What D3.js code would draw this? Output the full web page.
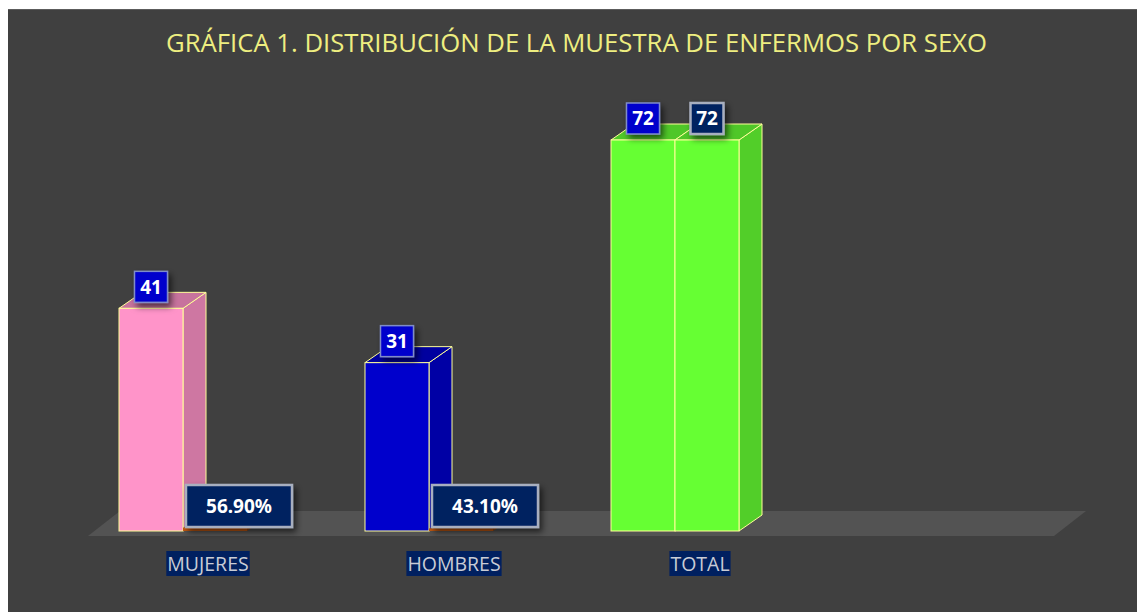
<!DOCTYPE html>
<html>
<head>
<meta charset="utf-8">
<script src="https://cdn.jsdelivr.net/npm/d3@7"></script>
<style>
  body { margin: 0; background: #fff; }
  svg { display: block; }
</style>
</head>
<body>
<div id="chart"></div>
<script>
var W = 1137, H = 612;

// data
var title = "GRÁFICA 1. DISTRIBUCIÓN DE LA MUESTRA DE ENFERMOS POR SEXO";
var categories = ["MUJERES", "HOMBRES", "TOTAL"];
var counts = [41, 31, 72];           // first series (N)
var shares = [0.569, 0.431, 72];     // second series (% , total kept as N)
var countColors = ["#ff94c9", "#0000cc", "#66ff33"];
var shareColors = ["#c55a11", "#c55a11", "#66ff33"];

var depthX = 23, depthY = -16;
var fmtPct = d3.format(".2%");

function shade(c, k) {
	return d3.color(c).darker(k).formatHex();
}

var svg = d3.select('#chart').append('svg')
	.attr('width', W)
	.attr('height', H);

var defs = svg.append('defs');
var f = defs.append('filter').attr('id', 'shadow')
	.attr('x', '-30%').attr('y', '-30%').attr('width', '170%').attr('height', '170%');
f.append('feDropShadow')
	.attr('dx', 3).attr('dy', 4).attr('stdDeviation', 3)
	.attr('flood-color', '#000').attr('flood-opacity', 0.6);

// background panel
svg.append('rect').attr('x', 8).attr('y', 9).attr('width', W - 8).attr('height', H - 9)
	.attr('fill', '#404040');
svg.append('line').attr('x1', 8).attr('x2', W).attr('y1', 9.5).attr('y2', 9.5)
	.attr('stroke', '#5c5c5c').attr('stroke-width', 1);

// title
svg.append('text')
	.attr('x', 576.5).attr('y', 52)
	.attr('text-anchor', 'middle')
	.attr('font-family', 'Open Sans, sans-serif')
	.attr('font-size', 25)
	.attr('textLength', 821)
	.attr('lengthAdjust', 'spacingAndGlyphs')
	.attr('fill', '#eeee80')
	.text(title);

// scales (4 slots, the last one stays empty like the original)
var x = d3.scaleBand()
	.domain(categories.concat(['']))
	.range([60, 1044]);
var sub = d3.scaleBand().domain([0, 1]).range([0, 128]);
var offset = (x.step() - 128) / 2;
var y = d3.scaleLinear().domain([0, 72]).range([531, 140]);

// floor
var fl = x.range()[0] + 28, fr = x.range()[1] + 10, fy = y(0) + 5;
svg.append('path')
	.attr('d', 'M' + fl + ',' + fy + 'L' + fr + ',' + fy +
		'L' + (fr + 32) + ',' + (fy - 25) + 'L' + (fl + 32) + ',' + (fy - 25) + 'Z')
	.attr('fill', '#535353');

var bars = [];
categories.forEach(function(c, i) {
	bars.push({ cat: c, s: 0, v: counts[i], color: countColors[i] });
	bars.push({ cat: c, s: 1, v: shares[i], color: shareColors[i] });
});

function drawBar(g, d) {
	var x0 = x(d.cat) + offset + sub(d.s),
		x1 = x0 + sub.bandwidth(),
		y0 = y(0),
		y1 = y(d.v);
	var edge = d.color === '#c55a11' ? 'none' : '#ffff99';
	// right side
	g.append('path')
		.attr('d', 'M' + x1 + ',' + y0 + 'L' + (x1 + depthX) + ',' + (y0 + depthY) +
			'L' + (x1 + depthX) + ',' + (y1 + depthY) + 'L' + x1 + ',' + y1 + 'Z')
		.attr('fill', shade(d.color, 0.6))
		.attr('stroke', edge).attr('stroke-width', 1);
	// top
	g.append('path')
		.attr('d', 'M' + x0 + ',' + y1 + 'L' + x1 + ',' + y1 +
			'L' + (x1 + depthX) + ',' + (y1 + depthY) + 'L' + (x0 + depthX) + ',' + (y1 + depthY) + 'Z')
		.attr('fill', shade(d.color, 0.7))
		.attr('stroke', edge).attr('stroke-width', 1);
	// front
	g.append('rect')
		.attr('x', x0).attr('y', y1)
		.attr('width', x1 - x0).attr('height', y0 - y1)
		.attr('fill', d.color)
		.attr('stroke', edge).attr('stroke-width', 1);
}

var barG = svg.append('g');
bars.forEach(function(d) { drawBar(barG.append('g'), d); });

// value labels
var labG = svg.append('g')
	.attr('font-family', 'Noto Sans, sans-serif')
	.attr('font-weight', 'bold')
	.attr('font-size', 19);

bars.forEach(function(d) {
	var cx = x(d.cat) + offset + sub(d.s) + sub.bandwidth() / 2;
	var pct = d.v < 1;
	var txt = pct ? fmtPct(d.v) : String(d.v);
	var bw = pct ? 106 : 33, bh = pct ? 42 : 31;
	var by = pct ? y(0) - 4 - bh : y(d.v) - 6 - bh;
	var bx = pct ? cx + 24 - bw / 2 : cx - bw / 2;
	var g = labG.append('g');
	g.append('rect')
		.attr('x', bx).attr('y', by).attr('width', bw).attr('height', bh)
		.attr('fill', d.s === 0 ? '#0000cc' : '#002060')
		.attr('stroke', d.s === 0 ? '#7f8cc8' : '#a8afbf')
		.attr('stroke-width', d.s === 0 ? 1.5 : 2.5)
		.attr('filter', 'url(#shadow)');
	g.append('text')
		.attr('x', bx + bw / 2).attr('y', by + bh / 2)
		.attr('dy', '0.36em')
		.attr('text-anchor', 'middle')
		.attr('fill', '#ffffff')
		.text(txt);
});

// category labels on navy highlight
var catG = svg.append('g')
	.attr('font-family', 'Open Sans, sans-serif')
	.attr('font-size', 19.5);
categories.forEach(function(c) {
	var cx = x(c) + x.step() / 2 + 25;
	var t = catG.append('text')
		.attr('x', cx).attr('y', 563.5)
		.attr('dy', '0.36em')
		.attr('text-anchor', 'middle')
		.attr('fill', '#c9ccd6')
		.text(c);
	var bb = t.node().getBBox();
	catG.insert('rect', 'text')
		.attr('x', bb.x - 1).attr('y', 551)
		.attr('width', bb.width + 2).attr('height', 25)
		.attr('fill', '#002060');
});
</script>
</body>
</html>
